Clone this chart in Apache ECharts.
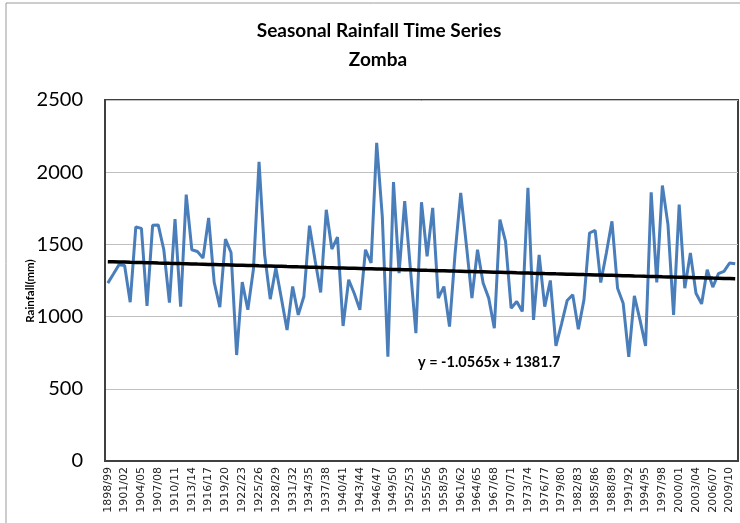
<!DOCTYPE html>
<html><head><meta charset="utf-8">
<script src="https://cdn.jsdelivr.net/npm/echarts@6/dist/echarts.min.js"></script>
<style>html,body{margin:0;padding:0;background:#fff}#c{width:740px;height:523px}</style>
</head><body><div id="c"></div>
<script>
var startYear = 1898;
var endYear = 2010;
var categories = [];
for (var y = startYear; y <= endYear; y++) {
  categories.push(y + '/' + String((y + 1) % 100).padStart(2, '0'));
}
var rainfall = [
  1232,1295,1359,1354,1100,1621,1611,1074,1632,1635,
  1463,1097,1676,1069,1845,1463,1451,1405,1683,1236,
  1065,1537,1444,734,1239,1047,1329,2072,1428,1121,
  1336,1123,907,1208,1012,1139,1630,1390,1167,1740,
  1468,1551,935,1255,1160,1047,1463,1371,2204,1694,
  722,1931,1301,1799,1340,885,1792,1417,1753,1128,
  1208,931,1440,1857,1500,1128,1463,1232,1128,919,
  1672,1521,1058,1104,1035,1892,977,1428,1069,1250,
  797,950,1111,1151,912,1116,1579,1597,1236,1440,
  1660,1197,1093,722,1144,977,797,1861,1236,1908,
  1637,1012,1776,1197,1440,1162,1088,1324,1204,1297,
  1313,1371,1366
];
var yTicks = [0, 500, 1000, 1500, 2000, 2500];
var trendSlope = -1.0565;
var trendIntercept = 1381.7;
var titleLines = ['Seasonal Rainfall Time Series', 'Zomba'];
var yAxisTitle = 'Rainfall(mm)';
var equationText = 'y = -1.0565x + 1381.7';

var trend = categories.map(function (c, i) { return +(trendSlope * (i + 1) + trendIntercept).toFixed(1); });

var chart = echarts.init(document.getElementById('c'), null, {renderer: 'canvas'});
chart.setOption({
  backgroundColor: '#ffffff',
  animation: false,
  grid: {left: 105, right: 2, top: 100, bottom: 62, show: true, borderColor: '#404040', borderWidth: 2, containLabel: false},
  xAxis: {
    type: 'category', data: categories, boundaryGap: true,
    axisLine: {lineStyle: {color: '#404040', width: 2}},
    axisTick: {show: false},
    axisLabel: {interval: 2, rotate: 90, fontFamily: 'DejaVu Sans', fontSize: 11, color: '#222', margin: 6}
  },
  yAxis: {
    type: 'value', min: yTicks[0], max: yTicks[yTicks.length - 1], interval: 500,
    axisLine: {show: true, lineStyle: {color: '#404040', width: 2}},
    axisTick: {show: false},
    splitLine: {lineStyle: {color: '#c0c0c0', width: 1}},
    axisLabel: {fontFamily: 'Lato', fontSize: 20, color: '#000', margin: 22, formatter: function (v) { return String(v); }}
  },
  graphic: [
    {type: 'rect', shape: {x: 6, y: 3, width: 760, height: 540}, style: {fill: 'none', stroke: '#9a9a9a', lineWidth: 1}, silent: true, z: -10},
    {type: 'text', x: 379, y: 31, style: {text: titleLines[0], font: 'bold 19px Lato', fill: '#000', textAlign: 'center', textVerticalAlign: 'middle'}},
    {type: 'text', x: 378, y: 60, style: {text: titleLines[1], font: 'bold 19px Lato', fill: '#000', textAlign: 'center', textVerticalAlign: 'middle'}},
    {type: 'text', x: 30, y: 291, rotation: Math.PI / 2, style: {text: yAxisTitle, font: 'bold 11.5px Lato', fill: '#000', textAlign: 'center', textVerticalAlign: 'middle'}},
    {type: 'text', x: 418, y: 362, style: {text: equationText, font: 'bold 14.5px Lato', fill: '#000', textAlign: 'left', textVerticalAlign: 'middle'}, z: 100}
  ],
  series: [
    {type: 'line', data: rainfall, symbol: 'none', lineStyle: {color: '#4a7ebb', width: 3}, z: 2},
    {type: 'line', data: trend, symbol: 'none', lineStyle: {color: '#000', width: 3.5}, z: 3}
  ]
});
</script></body></html>
